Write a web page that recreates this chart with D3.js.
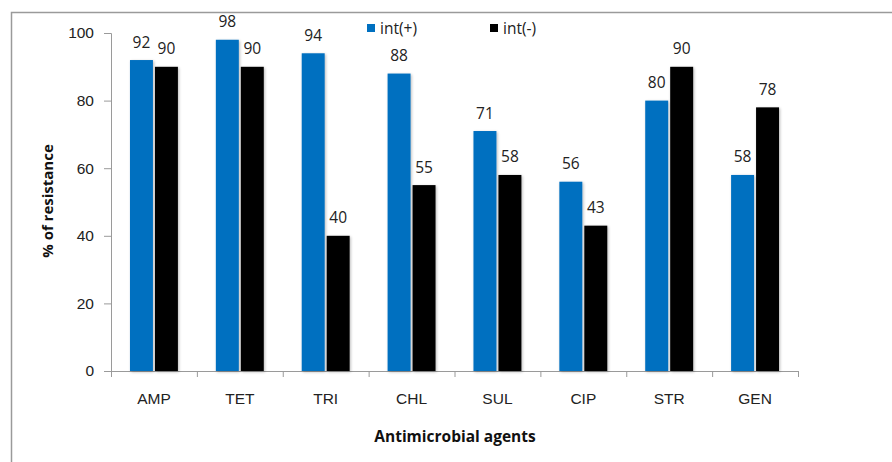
<!DOCTYPE html>
<html>
<head>
<meta charset="utf-8">
<script src="https://cdn.jsdelivr.net/npm/d3@7"></script>
<style>
  html, body { margin: 0; padding: 0; background: #fff; }
  svg { display: block; font-family: "Open Sans", "Noto Sans", sans-serif; }
</style>
</head>
<body>
<svg id="chart" width="892" height="462"></svg>
<script>
// Resistance (%) per antimicrobial agent for each group
const agents = ["AMP", "TET", "TRI", "CHL", "SUL", "CIP", "STR", "GEN"];
const seriesNames = ["int(+)", "int(-)"];
const intPos = [92, 98, 94, 88, 71, 56, 80, 58];
const intNeg = [90, 90, 40, 55, 58, 43, 90, 78];
const yTicks = [0, 20, 40, 60, 80, 100];
const colors = ["#0070C0", "#000000"];

const svg = d3.select("#chart");
const W = 892, H = 462;
const plot = { left: 111, right: 798, top: 33, bottom: 371 };
const FS = 15.5;

// Outer frame (top and left edges visible)
svg.append("path")
  .attr("d", `M11.5,${H} L11.5,12.5 L${W},12.5`)
  .attr("fill", "none").attr("stroke", "#9a9a9a").attr("stroke-width", 1.5);

const x0 = d3.scaleBand().domain(agents).range([plot.left, plot.right]).paddingInner(0).paddingOuter(0);
const x1 = d3.scaleBand().domain(seriesNames).range([0, x0.bandwidth()]).paddingInner(0.08).paddingOuter(0.76);
const y = d3.scaleLinear().domain([0, 100]).range([plot.bottom, plot.top]);

const data = agents.map((a, i) => ({ agent: a, values: [intPos[i], intNeg[i]] }));

// Soft drop shadow behind bars
const defs = svg.append("defs");
const f = defs.append("filter").attr("id", "shadow").attr("x", "-30%").attr("y", "-10%").attr("width", "160%").attr("height", "120%");
f.append("feGaussianBlur").attr("in", "SourceAlpha").attr("stdDeviation", 1.6).attr("result", "b");
f.append("feOffset").attr("in", "b").attr("dx", 0.5).attr("dy", 0.5).attr("result", "o");
f.append("feComponentTransfer").attr("in", "o").attr("result", "s")
  .append("feFuncA").attr("type", "linear").attr("slope", 0.28);
const fm = f.append("feMerge");
fm.append("feMergeNode").attr("in", "s");
fm.append("feMergeNode").attr("in", "SourceGraphic");

// Y axis
const yAxis = svg.append("g").attr("transform", `translate(${plot.left},0)`)
  .call(d3.axisLeft(y).tickValues(yTicks).tickSize(7).tickPadding(10));
yAxis.select(".domain").attr("stroke", "#9a9a9a");
yAxis.selectAll(".tick line").attr("stroke", "#9a9a9a");
yAxis.selectAll("text").attr("font-size", FS).attr("fill", "#222");

// X axis
const xAxis = svg.append("g").attr("transform", `translate(0,${plot.bottom})`)
  .call(d3.axisBottom(x0).tickSize(0).tickPadding(22));
xAxis.select(".domain").attr("stroke", "#9a9a9a");
xAxis.selectAll("text").attr("font-size", FS).attr("fill", "#222");
// Category separator ticks at band edges
svg.append("g").selectAll("line")
  .data(agents.map(a => x0(a)).concat([plot.right]))
  .join("line")
  .attr("x1", d => d + 0.5).attr("x2", d => d + 0.5)
  .attr("y1", plot.bottom).attr("y2", plot.bottom + 6)
  .attr("stroke", "#9a9a9a");

// Bars
const groups = svg.append("g").selectAll("g")
  .data(data).join("g")
  .attr("transform", d => `translate(${x0(d.agent)},0)`);

groups.selectAll("rect")
  .data(d => d.values.map((v, i) => ({ key: seriesNames[i], v, i })))
  .join("rect")
  .attr("x", d => x1(d.key))
  .attr("y", d => y(d.v))
  .attr("width", x1.bandwidth())
  .attr("height", d => y(0) - y(d.v))
  .attr("fill", d => colors[d.i])
  .attr("filter", "url(#shadow)");

// Value labels
groups.selectAll("text.val")
  .data(d => d.values.map((v, i) => ({ key: seriesNames[i], v, i })))
  .join("text")
  .attr("class", "val")
  .attr("x", d => x1(d.key) + x1.bandwidth() / 2)
  .attr("y", d => y(d.v) - 12.5)
  .attr("text-anchor", "middle")
  .attr("font-size", FS)
  .attr("fill", "#222")
  .text(d => d.v);

// Legend
const legend = svg.append("g");
const legendX = [367, 490];
seriesNames.forEach((name, i) => {
  legend.append("rect").attr("x", legendX[i]).attr("y", 24).attr("width", 8).attr("height", 8).attr("fill", colors[i]);
  legend.append("text").attr("x", legendX[i] + 13).attr("y", 34)
    .attr("font-size", FS).attr("fill", "#222").text(name);
});

// Axis titles
svg.append("text")
  .attr("transform", "translate(53,201) rotate(-90)")
  .attr("text-anchor", "middle").attr("font-size", 15).attr("font-weight", "bold").attr("fill", "#111")
  .text("% of resistance");
svg.append("text")
  .attr("x", 455).attr("y", 442)
  .attr("text-anchor", "middle").attr("font-size", 15.5).attr("font-weight", "bold").attr("fill", "#111")
  .text("Antimicrobial agents");
</script>
</body>
</html>
